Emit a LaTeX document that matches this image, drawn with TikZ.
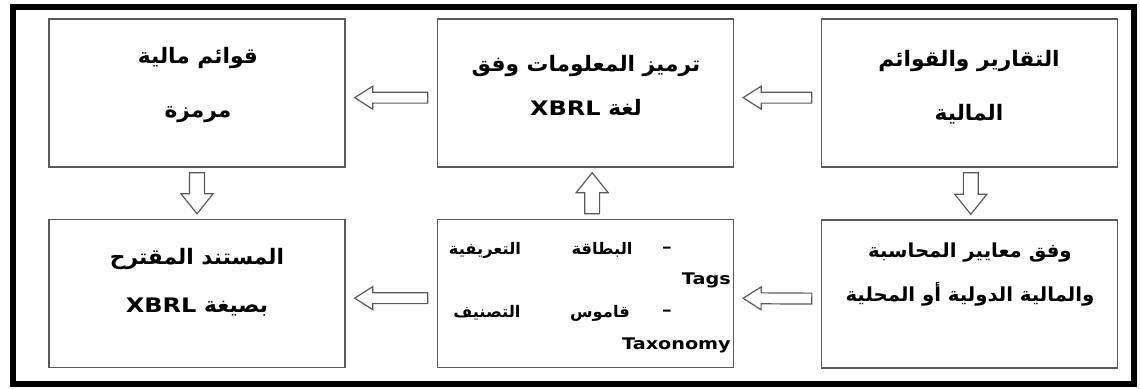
\documentclass[tikz,border=0pt]{standalone}
\usepackage{fontspec}
\usetikzlibrary{calc}
\TeXXeTstate=1
\newfontfamily\arabicfont[Script=Arabic,FakeStretch=1.02]{DejaVu Sans}
\newfontfamily\latinfont[FakeStretch=1.2]{DejaVu Sans}
\definecolor{boxgray}{gray}{0.35}

\def\arrgap{5pt}
\def\arrshaft{4pt}
\def\arrhead{8pt}
\def\arrlen{13pt}

\tikzset{
    box/.style={draw=boxgray, line width=1pt, minimum width=222pt, minimum height=111pt, inner sep=0pt},
    arabtext/.style={font=\arabicfont\bfseries\fontsize{16}{41}\selectfont, align=center, inner sep=0pt},
    bmarab/.style={font=\arabicfont\bfseries\fontsize{12}{14}\selectfont, inner sep=0pt},
    bmlatin/.style={font=\latinfont\bfseries\fontsize{12}{14}\selectfont, inner sep=0pt},
    arrow dims/.code n args={4}{\def\arrgap{#1}\def\arrshaft{#2}\def\arrhead{#3}\def\arrlen{#4}},
    blockarrow/.style={draw=boxgray, line width=0.9pt, fill=white, line join=miter,
        to path={
            ($(\tikztostart)!\arrgap!(\tikztotarget)$) coordinate (ba-s)
            ($(\tikztotarget)!\arrgap!(\tikztostart)$) coordinate (ba-t)
            ($(ba-t)!\arrlen!(ba-s)$) coordinate (ba-n)
            ($(ba-s)!\arrshaft!90:(ba-t)$) -- ($(ba-n)!\arrshaft!-90:(ba-s)$)
            -- ($(ba-n)!\arrhead!-90:(ba-s)$) -- (ba-t)
            -- ($(ba-n)!\arrhead!90:(ba-s)$) -- ($(ba-n)!\arrshaft!90:(ba-s)$)
            -- ($(ba-s)!\arrshaft!-90:(ba-t)$) -- cycle}},
    harrow/.style={blockarrow, arrow dims={6.75pt}{4.1pt}{8.6pt}{13.5pt}},
    varrow/.style={blockarrow, arrow dims={3.75pt}{5.6pt}{12pt}{15pt}}
}

\begin{document}
\begin{tikzpicture}[x=0.75pt, y=-0.75pt]
    \useasboundingbox (0,0) rectangle (1140,389);
    \draw[line width=4.5pt] (13,6.5) rectangle (1133.5,383.5);

    % boxes
    \node[box] (tl) at (197,93) {};
    \node[box] (tm) at (585.5,93) {};
    \node[box] (tr) at (969.5,93) {};
    \node[box] (bl) at (197,293.5) {};
    \node[box] (bm) at (585.5,293.5) {};
    \node[box] (br) at (969.5,294) {};

    % texts
    \node[arabtext] (tl-text) at (198,85) {\beginR قوائم مالية\endR\\\beginR مرمزة\endR};
    \node[arabtext, font=\arabicfont\bfseries\fontsize{16}{33}\selectfont] (tm-text) at (586,85)
        {\beginR ترميز المعلومات وفق\endR\\\beginR لغة {\latinfont\bfseries\fontsize{15}{33}\selectfont\beginL XBRL\endL}\endR};
    \node[arabtext] (tr-text) at (969,87) {\beginR التقارير والقوائم\endR\\\beginR المالية\endR};
    \node[arabtext, font=\arabicfont\bfseries\fontsize{16}{36}\selectfont] (bl-text) at (197,282)
        {\beginR المستند المقترح\endR\\\beginR بصيغة {\latinfont\bfseries\fontsize{15}{36}\selectfont\beginL XBRL\endL}\endR};
    \node[arabtext, font=\arabicfont\bfseries\fontsize{14.5}{33}\selectfont] (br-text) at (970,275)
        {\beginR وفق معايير المحاسبة\endR\\\beginR والمالية الدولية أو المحلية\endR};

    \node[bmlatin] (bm-dash1) at (667,250) {–};
    \node[bmarab] (bm-tag1) at (602,250) {\beginR البطاقة\endR};
    \node[bmarab] (bm-tag2) at (485,250) {\beginR التعريفية\endR};
    \node[bmlatin, anchor=east] (bm-tags) at (731,280) {Tags};
    \node[bmlatin] (bm-dash2) at (667,313) {–};
    \node[bmarab] (bm-tax1) at (600,313) {\beginR قاموس\endR};
    \node[bmarab] (bm-tax2) at (487,313) {\beginR التصنيف\endR};
    \node[bmlatin, anchor=east] (bm-taxo) at (731,345) {Taxonomy};

    % arrows
    \draw[harrow] ([yshift=-3.5pt]tm.west) to ([yshift=-3.5pt]tl.east);
    \draw[harrow] ([yshift=-3.5pt]tr.west) to ([yshift=-3.5pt]tm.east);
    \draw[harrow] ([yshift=-3.5pt]bm.west) to ([yshift=-3.5pt]bl.east);
    \draw[harrow] ([yshift=-3.5pt]br.west) to ([yshift=-3.5pt]bm.east);
    \draw[varrow] (tl.south) to (bl.north);
    \draw[varrow] ([xshift=1pt]tr.south) to ([xshift=1pt]br.north);
    \draw[varrow] ([xshift=5pt]bm.north) to ([xshift=5pt]tm.south);
\end{tikzpicture}
\end{document}
